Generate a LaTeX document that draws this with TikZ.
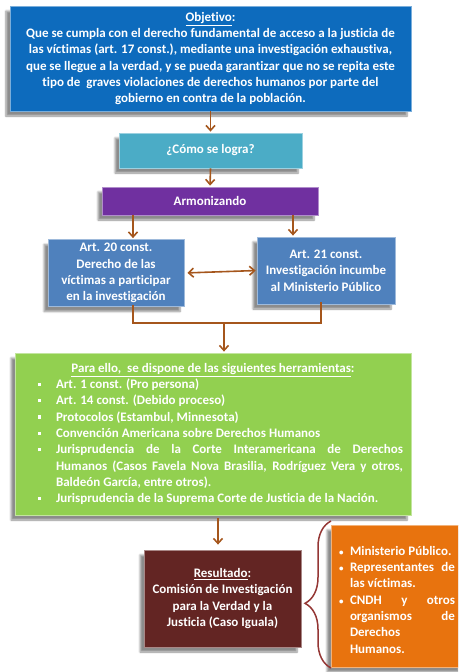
\documentclass[tikz,border=0pt]{standalone}
\usepackage{fontspec}
\setmainfont{Carlito}[Ligatures=NoCommon]
\usetikzlibrary{arrows.meta,shadows.blur,decorations.pathreplacing}

\definecolor{azulobj}{HTML}{0D6BBD}
\definecolor{turquesa}{HTML}{4BACC6}
\definecolor{morado}{HTML}{7030A0}
\definecolor{azulart}{HTML}{4F81BD}
\definecolor{verde}{HTML}{92D050}
\definecolor{guinda}{HTML}{632523}
\definecolor{naranja}{HTML}{E8730E}
\definecolor{cafe}{HTML}{A5561C}
\definecolor{llavecol}{HTML}{943634}

\tikzset{
	caja/.style={fill=#1, draw=#1!55!white, line width=0.8pt, text=white,
		font=\bfseries\fontsize{13}{16.3}\selectfont, inner sep=0pt,
		blur shadow={shadow xshift=-4pt, shadow yshift=-5pt, shadow blur steps=6, shadow opacity=45}},
	flecha/.style={draw=cafe, line width=1.6pt, -{Straight Barb[length=5pt,width=9pt]}, shorten >=1pt},
	linea/.style={draw=cafe, line width=1.6pt},
}

\newcommand{\herr}{\par\leftskip=33pt\noindent\hspace{-18pt}\makebox[18pt][l]{\rule[2.5pt]{3.5pt}{3.5pt}}}
\newcommand{\punto}{\par\leftskip=11pt\noindent\hspace{-11pt}\makebox[11pt][l]{\small•}}

\begin{document}
\begin{tikzpicture}[x=1pt, y=-1pt]
	\useasboundingbox (0,0) rectangle (458,672);
	\clip (0,0) rectangle (458,672);

	\node[caja=azulobj, minimum width=401pt, minimum height=105pt, align=center] (obj) at (210.5,58.5)
		{\underline{Objetivo}:\\Que se cumpla con el derecho fundamental de acceso a la justicia de\\las víctimas (art. 17 const.), mediante una investigación exhaustiva,\\que se llegue a la verdad, y se pueda garantizar que no se repita este\\tipo de\ \ graves violaciones de derechos humanos por parte del\\gobierno en contra de la población.};
	\node[caja=turquesa, minimum width=183pt, minimum height=35pt] (como) at (210.5,150.5) {¿Cómo se logra?};
	\node[caja=morado, minimum width=216pt, minimum height=28pt] (arm) at (210,201) {Armonizando};
	\node[caja=azulart, minimum width=136pt, minimum height=67pt, align=center] (art20) at (116,273)
		{Art. 20 const.\\Derecho de las\\víctimas a participar\\en la investigación};
	\node[caja=azulart, minimum width=138pt, minimum height=67pt, align=center] (art21) at (326,270.5)
		{Art. 21 const.\\Investigación incumbe\\al Ministerio Público};
	\node[caja=verde, minimum width=396pt, minimum height=162pt, text width=380pt, inner xsep=8pt, align=justify] (herram) at (213,434)
		{{\centering\underline{Para ello,\ \ se dispone de las siguientes herramientas}:\par}
		\herr Art. 1 const. (Pro persona)
		\herr Art. 14 const. (Debido proceso)
		\herr Protocolos (Estambul, Minnesota)
		\herr Convención Americana sobre Derechos Humanos
		\herr Jurisprudencia de la Corte Interamericana de Derechos\linebreak Humanos (Casos Favela Nova Brasilia, Rodríguez Vera y otros,\linebreak Baldeón García, entre otros).
		\herr Jurisprudencia de la Suprema Corte de Justicia de la Nación.\par};
	\node[caja=guinda, minimum width=157pt, minimum height=97pt, align=center] (res) at (222.5,598.5)
		{\underline{Resultado}:\\Comisión de Investigación\\para la Verdad y la\\Justicia (Caso Iguala)};
	\node[caja=naranja, minimum width=132pt, minimum height=142pt, text width=116pt, inner xsep=8pt, align=justify] (part) at (397,596)
		{\punto Ministerio Público.
		\punto Representantes de\linebreak las víctimas.
		\punto CNDH y otros\linebreak organismos de\linebreak Derechos\linebreak Humanos.\par};

	\coordinate (a20) at (133,0);
	\coordinate (a21) at (293,0);
	\coordinate (c20) at (133,323);
	\coordinate (c21) at (321,323);
	\coordinate (cm) at (224,323);
	\coordinate (cr) at (218,530);
	\coordinate (ll1) at (331,668);
	\coordinate (ll2) at (331,521);

	\draw[flecha] (obj.south) to (como.north);
	\draw[flecha] (como.south) to (arm.north);
	\draw[flecha] (arm.south -| a20) to (art20.north -| a20);
	\draw[flecha] (arm.south -| a21) to (art21.north -| a21);
	\draw[flecha, {Straight Barb[length=5pt,width=9pt]}-{Straight Barb[length=5pt,width=9pt]}, shorten <=3pt, shorten >=1pt] (art20.east) to (art21.west);
	\draw[linea] ([yshift=2pt]art20.south -| c20) -- (c20) -- (c21) -- ([yshift=2pt]art21.south -| c21);
	\draw[flecha] (cm) to (herram.north -| cm);
	\draw[flecha, shorten <=3pt, shorten >=5pt] (herram.south -| cr) to (res.north -| cr);
	\draw[draw=llavecol, line width=1.5pt, decorate, decoration={brace, amplitude=26pt, aspect=0.44}] (ll1) -- (ll2);
\end{tikzpicture}
\end{document}
